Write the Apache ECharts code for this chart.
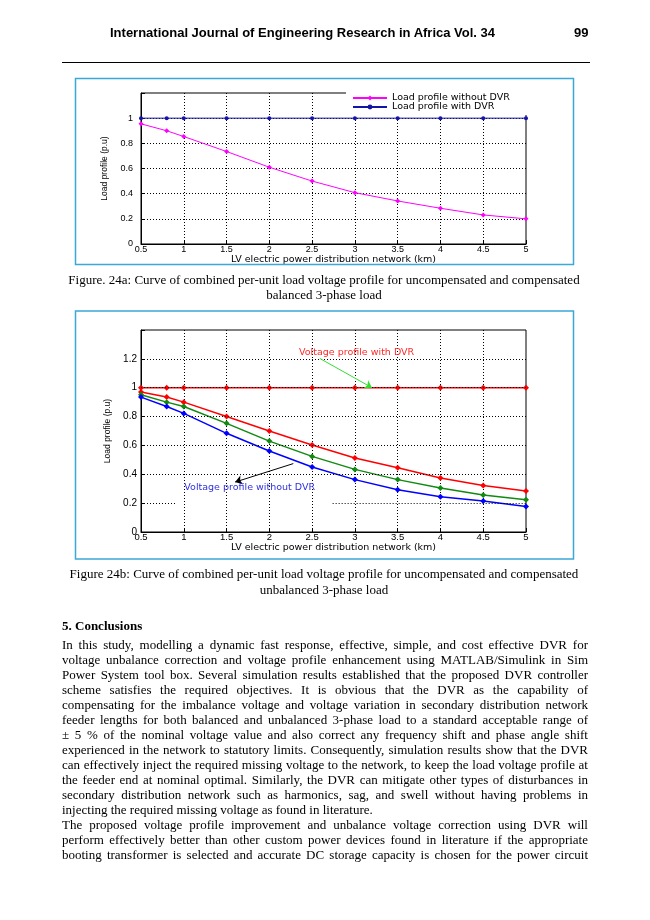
<!DOCTYPE html>
<html><head><meta charset="utf-8">
<script src="https://cdn.jsdelivr.net/npm/echarts@6/dist/echarts.min.js"></script>
<style>
html,body{margin:0;padding:0;background:#fff;}
#page{position:relative;width:650px;height:920px;overflow:hidden;background:#fff;}
#chart{position:absolute;left:0;top:0;width:650px;height:920px;}
.t{position:absolute;font-family:"Liberation Serif","Times New Roman",serif;font-size:13px;line-height:15px;height:15px;color:#000;white-space:nowrap;}
.j{left:62px;width:526px;text-align:justify;text-align-last:justify;}
.l{left:62px;}
.c{left:0;width:648px;text-align:center;}
.h{position:absolute;font-family:"Liberation Sans",Arial,sans-serif;font-weight:bold;font-size:13px;line-height:15px;white-space:nowrap;}
</style></head>
<body>
<div id="page">
<div id="chart"></div>
<div class="h" style="left:110px;top:25px;">International Journal of Engineering Research in Africa Vol. 34</div>
<div class="h" style="left:574px;top:25px;">99</div>
<div style="position:absolute;left:62px;top:62px;width:528px;height:1px;background:#000;"></div>

<div class="t c" style="top:272px;">Figure. 24a: Curve of combined per-unit load voltage profile for uncompensated and compensated</div>
<div class="t c" style="top:287px;">balanced 3-phase load</div>

<div class="t c" style="top:566px;">Figure 24b: Curve of combined per-unit load voltage profile for uncompensated and compensated</div>
<div class="t c" style="top:582px;">unbalanced 3-phase load</div>

<div class="t l" style="top:618px;font-weight:bold;">5. Conclusions</div>
<div id="body"></div>
</div>
<script>
// ---- data ----
const distanceKm = [0.5, 0.8, 1, 1.5, 2, 2.5, 3, 3.5, 4, 4.5, 5];
const balancedWithoutDVR = [0.955, 0.90, 0.854, 0.735, 0.61, 0.50, 0.408, 0.342, 0.284, 0.231, 0.20];
const balancedWithDVR = [1, 1, 1, 1, 1, 1, 1, 1, 1, 1, 1];
const unbalancedWithDVR = [1, 1, 1, 1, 1, 1, 1, 1, 1, 1, 1];
const unbalancedRed = [0.97, 0.935, 0.90, 0.80, 0.70, 0.603, 0.513, 0.446, 0.374, 0.323, 0.284];
const unbalancedGreen = [0.951, 0.90, 0.87, 0.753, 0.63, 0.524, 0.434, 0.363, 0.305, 0.256, 0.224];
const unbalancedBlue = [0.935, 0.87, 0.822, 0.684, 0.561, 0.45, 0.363, 0.293, 0.245, 0.215, 0.176];
const xTickLabels = ['0.5', '1', '1.5', '2', '2.5', '3', '3.5', '4', '4.5', '5'];
const yTickLabelsA = ['0', '0.2', '0.4', '0.6', '0.8', '1', ''];
const yTickLabelsB = ['0', '0.2', '0.4', '0.6', '0.8', '1', '1.2', ''];
const gridLinesB = [0.4, 0.6, 0.8, 1.0, 1.2];
const bodyLines = [
 "In this study, modelling a dynamic fast response, effective, simple, and cost effective DVR for",
 "voltage unbalance correction and voltage profile enhancement using MATLAB/Simulink in Sim",
 "Power System tool box. Several simulation results established that the proposed DVR controller",
 "scheme satisfies the required objectives. It is obvious that the DVR as the capability of",
 "compensating for the imbalance voltage and voltage variation in secondary distribution network",
 "feeder lengths for both balanced and unbalanced 3-phase load to a standard acceptable range of",
 "\u00b1 5 % of the nominal voltage value and also correct any frequency shift and phase angle shift",
 "experienced in the network to statutory limits. Consequently, simulation results show that the DVR",
 "can effectively inject the required missing voltage to the network, to keep the load voltage profile at",
 "the feeder end at nominal optimal. Similarly, the DVR can mitigate other types of disturbances in",
 "secondary distribution network such as harmonics, sag, and swell without having problems in",
 "injecting the required missing voltage as found in literature.",
 "The proposed voltage profile improvement and unbalance voltage correction using DVR will",
 "perform effectively better than other custom power devices found in literature if the appropriate",
 "booting transformer is selected and accurate DC storage capacity is chosen for the power circuit"
];
const lastLines = [11];

// ---- body text ----
const bodyEl = document.getElementById('body');
bodyLines.forEach((s, i) => {
  const d = document.createElement('div');
  d.className = 't ' + (lastLines.indexOf(i) >= 0 ? 'l' : 'j');
  d.style.top = (637 + i * 15) + 'px';
  d.textContent = s;
  bodyEl.appendChild(d);
});

// ---- chart ----
const pairs = arr => distanceKm.map((x, i) => [x, arr[i]]);
const chart = echarts.init(document.getElementById('chart'), null, {renderer: 'canvas'});
const sans = '"Liberation Sans", Arial, sans-serif';
const wide = '"DejaVu Sans", Verdana, sans-serif';
const dotted = {type: [1, 2], color: '#000', width: 1};

function xAxisCfg(gridIndex, fs, margin, gap) {
  return {
    gridIndex, type: 'value', min: 0.5, max: 5, interval: 0.5,
    axisLine: {show: true, lineStyle: {color: '#000', width: 1}},
    axisTick: {show: true, inside: true, length: 4, lineStyle: {color: '#000'}},
    axisLabel: {color: '#000', fontFamily: sans, fontSize: fs, margin,
      formatter: v => xTickLabels[Math.round((v - 0.5) / 0.5)]},
    splitLine: {show: true, showMinLine: false, showMaxLine: false, lineStyle: dotted},
    name: 'LV electric power distribution network (km)', nameLocation: 'middle', nameGap: gap,
    nameTextStyle: {color: '#000', fontFamily: wide, fontSize: 9.5}
  };
}
function yAxisCfg(gridIndex, max, labels, fs, margin, gap, split) {
  return {
    gridIndex, type: 'value', min: 0, max, interval: 0.2,
    axisLine: {show: true, lineStyle: {color: '#000', width: 1}},
    axisTick: {show: true, inside: true, length: 4, lineStyle: {color: '#000'}},
    axisLabel: {color: '#000', fontFamily: sans, fontSize: fs, margin,
      formatter: v => labels[Math.round(v / 0.2)]},
    splitLine: {show: split, showMinLine: false, showMaxLine: false, lineStyle: dotted},
    name: 'Load profile (p.u)', nameLocation: 'middle', nameGap: gap, nameRotate: 90,
    nameTextStyle: {color: '#000', fontFamily: sans, fontSize: 8.5}
  };
}

const option = {
  animation: false,
  backgroundColor: 'transparent',
  grid: [
    {left: 141, top: 93, width: 385, height: 151, show: true, borderColor: '#000', borderWidth: 1, backgroundColor: 'transparent'},
    {left: 141, top: 330, width: 385, height: 202, show: true, borderColor: '#000', borderWidth: 1, backgroundColor: 'transparent'}
  ],
  xAxis: [xAxisCfg(0, 9, 1, 6), xAxisCfg(1, 9.5, 0, 9)],
  yAxis: [yAxisCfg(0, 1.2, yTickLabelsA, 9, 8, 23, true), yAxisCfg(1, 1.4, yTickLabelsB, 10, 4, 27, false)],
  legend: [
    {data: ['Load profile without DVR'], left: 352, top: 93, orient: 'vertical', padding: 0, itemWidth: 34, itemHeight: 6,
     textStyle: {fontFamily: wide, fontSize: 9.5, color: '#000', lineHeight: 9}, z: 10, selectedMode: false},
    {data: ['Load profile with DVR'], left: 352, top: 102, orient: 'vertical', padding: 0, itemWidth: 34, itemHeight: 6,
     textStyle: {fontFamily: wide, fontSize: 9.5, color: '#000', lineHeight: 9}, z: 10, selectedMode: false}
  ],
  graphic: [
    {type: 'rect', z: 5, shape: {x: 346, y: 86, width: 186, height: 29}, style: {fill: '#fff'}},
    {type: 'rect', z: 6, shape: {x: 75.5, y: 78.5, width: 498, height: 186}, style: {fill: 'none', stroke: '#3aa8d8', lineWidth: 1.5}},
    {type: 'rect', z: 6, shape: {x: 75.5, y: 311, width: 498, height: 248}, style: {fill: 'none', stroke: '#3aa8d8', lineWidth: 1.5}}
  ],
  series: [
    {name: 'Load profile without DVR', type: 'line', xAxisIndex: 0, yAxisIndex: 0, data: pairs(balancedWithoutDVR),
     symbol: 'diamond', symbolSize: 5, lineStyle: {color: '#ff00ff', width: 1}, itemStyle: {color: '#ff00ff'}},
    {name: 'Load profile with DVR', type: 'line', xAxisIndex: 0, yAxisIndex: 0, data: pairs(balancedWithDVR),
     symbol: 'circle', symbolSize: 4, lineStyle: {color: '#1414a8', width: 1}, itemStyle: {color: '#1414a8'}},
    {name: 'gridB', type: 'line', xAxisIndex: 1, yAxisIndex: 1, data: [], z: 1, silent: true,
     markLine: {silent: true, symbol: 'none', label: {show: false}, lineStyle: dotted, animation: false,
       data: [
         [{coord: [0.5, 0.2]}, {coord: [0.9, 0.2]}],
         [{coord: [2.74, 0.2]}, {coord: [5, 0.2]}]
       ].concat(gridLinesB.map(v => ({yAxis: v})))}},
    {name: 'Voltage profile with DVR', type: 'line', xAxisIndex: 1, yAxisIndex: 1, data: pairs(unbalancedWithDVR),
     symbol: 'diamond', symbolSize: 6, lineStyle: {color: '#ff0000', width: 1.5}, itemStyle: {color: '#ff0000'},
     markLine: {silent: true, symbol: ['none', 'arrow'], symbolSize: 7, label: {show: false}, lineStyle: {color: '#33dd33', width: 1, type: 'solid'},
       data: [[{coord: [2.59, 1.203]}, {coord: [3.2, 1.0]}]]},
     markPoint: {silent: true, symbol: 'rect', symbolSize: 1, itemStyle: {color: 'rgba(0,0,0,0)'},
       label: {show: true, position: 'inside', color: '#ff2a2a', fontFamily: wide, fontSize: 9.5, formatter: 'Voltage profile with DVR'},
       data: [{coord: [3.02, 1.245]}]}},
    {name: 'Phase red', type: 'line', xAxisIndex: 1, yAxisIndex: 1, data: pairs(unbalancedRed),
     symbol: 'diamond', symbolSize: 6, lineStyle: {color: '#ff0000', width: 1.5}, itemStyle: {color: '#ff0000'}},
    {name: 'Phase green', type: 'line', xAxisIndex: 1, yAxisIndex: 1, data: pairs(unbalancedGreen),
     symbol: 'diamond', symbolSize: 6, lineStyle: {color: '#118a11', width: 1.5}, itemStyle: {color: '#118a11'},
     markLine: {silent: true, symbol: ['none', 'arrow'], symbolSize: 7, label: {show: false}, lineStyle: {color: '#000', width: 1, type: 'solid'},
       data: [[{coord: [2.28, 0.474]}, {coord: [1.6, 0.346]}]]}},
    {name: 'Phase blue', type: 'line', xAxisIndex: 1, yAxisIndex: 1, data: pairs(unbalancedBlue),
     symbol: 'diamond', symbolSize: 6, lineStyle: {color: '#0000ff', width: 1.5}, itemStyle: {color: '#0000ff'},
     markPoint: {silent: true, symbol: 'rect', symbolSize: 1, itemStyle: {color: 'rgba(0,0,0,0)'},
       label: {show: true, position: 'inside', color: '#3030e0', fontFamily: wide, fontSize: 9.5, formatter: 'Voltage profile without DVR'},
       data: [{coord: [1.77, 0.307]}]}}
  ]
};
chart.setOption(option);
</script>
</body></html>
